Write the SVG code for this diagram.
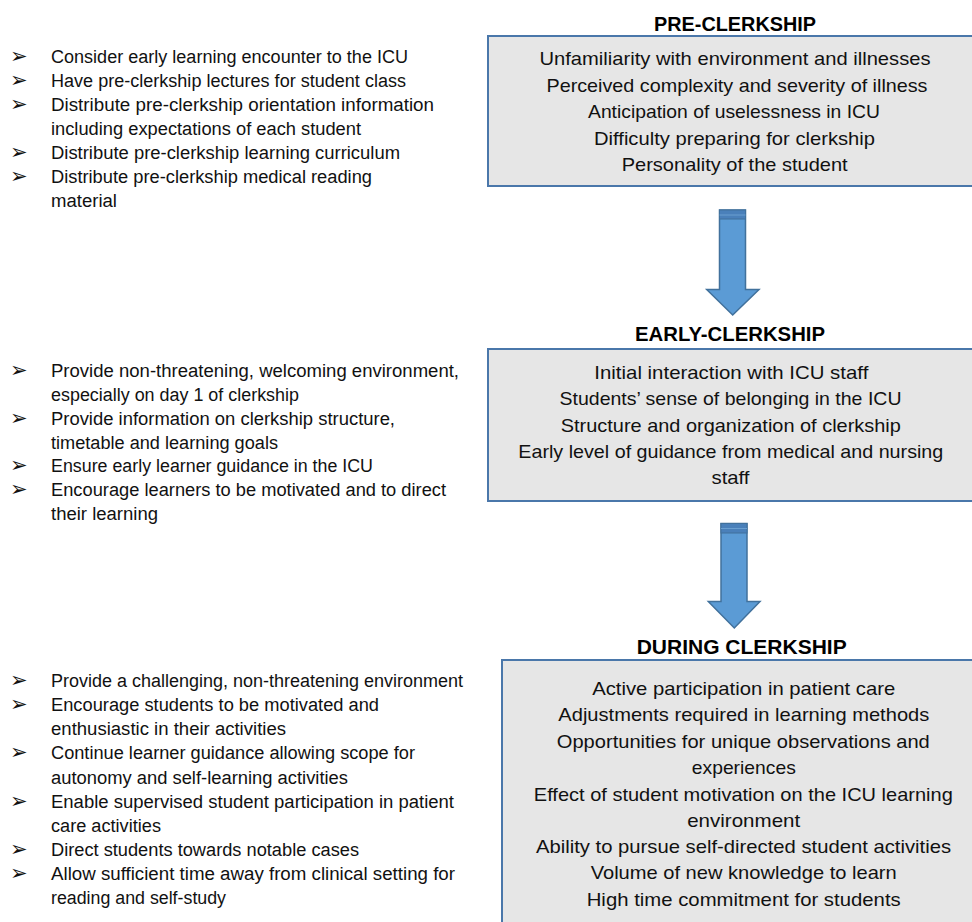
<svg xmlns="http://www.w3.org/2000/svg" width="972" height="922" viewBox="0 0 972 922">
<style>
.l{font-family:"Liberation Sans",Arial,sans-serif;font-size:18px;fill:#111}
.b{font-family:"DejaVu Sans",sans-serif;font-size:21px;fill:#111}
.r{font-family:"Liberation Sans",Arial,sans-serif;font-size:19px;fill:#111;text-anchor:middle}
.t{font-family:"Liberation Sans",Arial,sans-serif;font-size:20px;font-weight:bold;fill:#000;text-anchor:middle}
.box{fill:#e6e6e6;stroke:#4a77aa;stroke-width:2}
.arr{fill:#5b9bd5;stroke:#41719c;stroke-width:1.5}
.cap{fill:#4a80ba;stroke:#41719c;stroke-width:1}
</style>
<rect width="972" height="922" fill="#fff"/>

<g id="pre-actions">
<g class="b"><text x="10" y="63">➢</text><text x="10" y="87">➢</text><text x="10" y="111">➢</text><text x="10" y="159">➢</text><text x="10" y="183">➢</text></g>
<text class="l" x="51" y="63" textLength="357" lengthAdjust="spacingAndGlyphs">Consider early learning encounter to the ICU</text>
<text class="l" x="51" y="87" textLength="355" lengthAdjust="spacingAndGlyphs">Have pre-clerkship lectures for student class</text>
<text class="l" x="51" y="111" textLength="383" lengthAdjust="spacingAndGlyphs">Distribute pre-clerkship orientation information</text>
<text class="l" x="51" y="135" textLength="310" lengthAdjust="spacingAndGlyphs">including expectations of each student</text>
<text class="l" x="51" y="159" textLength="349" lengthAdjust="spacingAndGlyphs">Distribute pre-clerkship learning curriculum</text>
<text class="l" x="51" y="183" textLength="321" lengthAdjust="spacingAndGlyphs">Distribute pre-clerkship medical reading</text>
<text class="l" x="51" y="207" textLength="66" lengthAdjust="spacingAndGlyphs">material</text>
</g>

<g id="early-actions">
<g class="b"><text x="10" y="377">➢</text><text x="10" y="425">➢</text><text x="10" y="472">➢</text><text x="10" y="496">➢</text></g>
<text class="l" x="51" y="377" textLength="408" lengthAdjust="spacingAndGlyphs">Provide non-threatening, welcoming environment,</text>
<text class="l" x="51" y="401" textLength="248" lengthAdjust="spacingAndGlyphs">especially on day 1 of clerkship</text>
<text class="l" x="51" y="425" textLength="344" lengthAdjust="spacingAndGlyphs">Provide information on clerkship structure,</text>
<text class="l" x="51" y="449" textLength="227" lengthAdjust="spacingAndGlyphs">timetable and learning goals</text>
<text class="l" x="51" y="472" textLength="322" lengthAdjust="spacingAndGlyphs">Ensure early learner guidance in the ICU</text>
<text class="l" x="51" y="496" textLength="395" lengthAdjust="spacingAndGlyphs">Encourage learners to be motivated and to direct</text>
<text class="l" x="51" y="520" textLength="107" lengthAdjust="spacingAndGlyphs">their learning</text>
</g>

<g id="during-actions">
<g class="b"><text x="10" y="687">➢</text><text x="10" y="711">➢</text><text x="10" y="759">➢</text><text x="10" y="808">➢</text><text x="10" y="856">➢</text><text x="10" y="880">➢</text></g>
<text class="l" x="51" y="687" textLength="412" lengthAdjust="spacingAndGlyphs">Provide a challenging, non-threatening environment</text>
<text class="l" x="51" y="711" textLength="328" lengthAdjust="spacingAndGlyphs">Encourage students to be motivated and</text>
<text class="l" x="51" y="735" textLength="235" lengthAdjust="spacingAndGlyphs">enthusiastic in their activities</text>
<text class="l" x="51" y="759" textLength="364" lengthAdjust="spacingAndGlyphs">Continue learner guidance allowing scope for</text>
<text class="l" x="51" y="784" textLength="297" lengthAdjust="spacingAndGlyphs">autonomy and self-learning activities</text>
<text class="l" x="51" y="808" textLength="403" lengthAdjust="spacingAndGlyphs">Enable supervised student participation in patient</text>
<text class="l" x="51" y="832" textLength="110" lengthAdjust="spacingAndGlyphs">care activities</text>
<text class="l" x="51" y="856" textLength="308" lengthAdjust="spacingAndGlyphs">Direct students towards notable cases</text>
<text class="l" x="51" y="880" textLength="404" lengthAdjust="spacingAndGlyphs">Allow sufficient time away from clinical setting for</text>
<text class="l" x="51" y="904" textLength="175" lengthAdjust="spacingAndGlyphs">reading and self-study</text>
</g>

<g id="pre-clerkship">
<text class="t" x="735" y="30.5" textLength="162" lengthAdjust="spacingAndGlyphs">PRE-CLERKSHIP</text>
<rect class="box" x="488" y="36" width="500" height="150"/>
<text class="r" x="735" y="65" textLength="391" lengthAdjust="spacingAndGlyphs">Unfamiliarity with environment and illnesses</text>
<text class="r" x="737" y="91.5" textLength="381" lengthAdjust="spacingAndGlyphs">Perceived complexity and severity of illness</text>
<text class="r" x="734" y="118" textLength="292" lengthAdjust="spacingAndGlyphs">Anticipation of uselessness in ICU</text>
<text class="r" x="734.5" y="144.5" textLength="281" lengthAdjust="spacingAndGlyphs">Difficulty preparing for clerkship</text>
<text class="r" x="734.7" y="170.5" textLength="226" lengthAdjust="spacingAndGlyphs">Personality of the student</text>
</g>

<g id="early-clerkship">
<text class="t" x="730" y="340.5" textLength="190" lengthAdjust="spacingAndGlyphs">EARLY-CLERKSHIP</text>
<rect class="box" x="488" y="349" width="500" height="152"/>
<text class="r" x="731.3" y="378.5" textLength="274" lengthAdjust="spacingAndGlyphs">Initial interaction with ICU staff</text>
<text class="r" x="730.5" y="405" textLength="342" lengthAdjust="spacingAndGlyphs">Students’ sense of belonging in the ICU</text>
<text class="r" x="730.8" y="431.5" textLength="340" lengthAdjust="spacingAndGlyphs">Structure and organization of clerkship</text>
<text class="r" x="730.8" y="457.5" textLength="425" lengthAdjust="spacingAndGlyphs">Early level of guidance from medical and nursing</text>
<text class="r" x="730.5" y="483.5" textLength="38" lengthAdjust="spacingAndGlyphs">staff</text>
</g>

<g id="during-clerkship">
<text class="t" x="741.7" y="653.5" textLength="210" lengthAdjust="spacingAndGlyphs">DURING CLERKSHIP</text>
<rect class="box" x="502" y="660" width="490" height="290"/>
<text class="r" x="743.7" y="695" textLength="303" lengthAdjust="spacingAndGlyphs">Active participation in patient care</text>
<text class="r" x="743.8" y="721" textLength="371" lengthAdjust="spacingAndGlyphs">Adjustments required in learning methods</text>
<text class="r" x="743.3" y="747.5" textLength="373" lengthAdjust="spacingAndGlyphs">Opportunities for unique observations and</text>
<text class="r" x="743.8" y="773.5" textLength="104" lengthAdjust="spacingAndGlyphs">experiences</text>
<text class="r" x="743.3" y="800.5" textLength="419" lengthAdjust="spacingAndGlyphs">Effect of student motivation on the ICU learning</text>
<text class="r" x="743.7" y="826.5" textLength="113" lengthAdjust="spacingAndGlyphs">environment</text>
<text class="r" x="743.5" y="852.7" textLength="415" lengthAdjust="spacingAndGlyphs">Ability to pursue self-directed student activities</text>
<text class="r" x="743.7" y="879.3" textLength="306" lengthAdjust="spacingAndGlyphs">Volume of new knowledge to learn</text>
<text class="r" x="743.7" y="905.7" textLength="314" lengthAdjust="spacingAndGlyphs">High time commitment for students</text>
</g>

<g id="connectors">
<g id="arrow-pre-early">
<polygon class="arr" points="719.5,210 745.5,210 745.5,289.5 759,289.5 732.7,315 706.7,289.5 719.5,289.5"/>
<rect class="cap" x="719.5" y="210" width="26" height="9"/>
<line x1="719.5" y1="215" x2="745.5" y2="215" stroke="#6a9fd0" stroke-width="1"/>
</g>
<g id="arrow-early-during">
<polygon class="arr" points="721,523.5 747,523.5 747,601.5 760,601.5 734.3,628 708.3,601.5 721,601.5"/>
<rect class="cap" x="721" y="523.5" width="26" height="9.5"/>
<line x1="721" y1="528.5" x2="747" y2="528.5" stroke="#6a9fd0" stroke-width="1"/>
</g>
</g>
</svg>
